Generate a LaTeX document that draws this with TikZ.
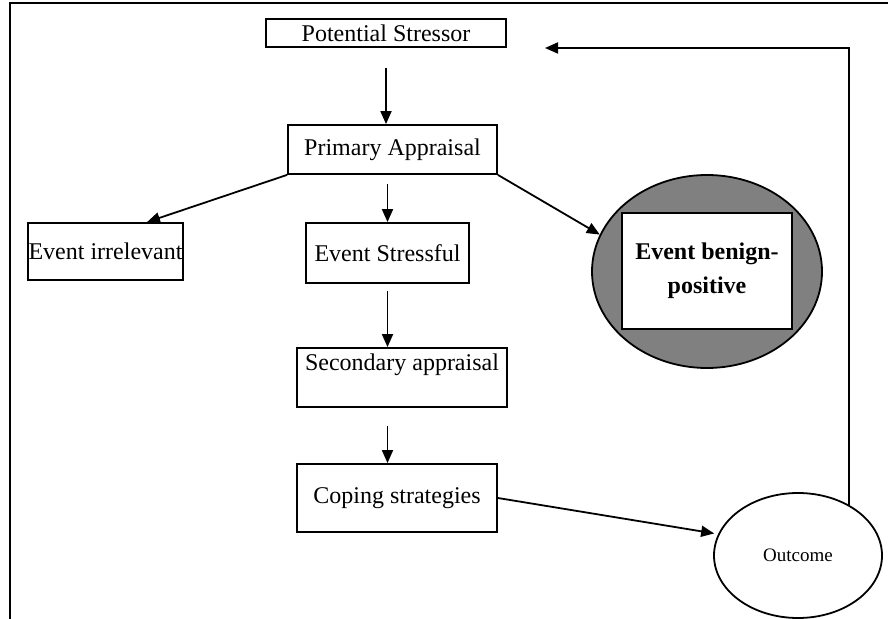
\documentclass[tikz,border=0pt]{standalone}
\usepackage{fontspec}
\setmainfont{Liberation Serif}
\usetikzlibrary{shapes.geometric,arrows.meta}
\begin{document}
\begin{tikzpicture}
  [x=0.5pt,y=-0.5pt,
   line width=0.9pt,
   >={Triangle[length=6.5pt,width=5.5pt]},
   boxN/.style={draw,rectangle,inner sep=0pt,font=\fontsize{12}{14.4}\selectfont},
   ovalN/.style={draw,ellipse,inner sep=0pt},
   arr/.style={->,line width=0.9pt},
  ]
 \useasboundingbox (0,0) rectangle (888,619);
 % frame
 \draw[line width=1.1pt] (888,3) -- (10,3) -- (10,619);

 \node[boxN,minimum width=120pt,minimum height=14pt] (stressor) at (386,33) {Potential Stressor};
 \node[boxN,minimum width=104.5pt,minimum height=24.5pt] (primary) at (392.5,149.5) {Primary Appraisal};
 \node[boxN,minimum width=77.5pt,minimum height=28.5pt] (irrelevant) at (105.5,251.5) {Event irrelevant};
 \node[boxN,minimum width=81.5pt,minimum height=30pt] (stressful) at (387.5,253) {Event Stressful};
 \node[boxN,minimum width=105pt,minimum height=29.5pt,text height=8.5pt,text depth=15pt] (secondary) at (402,377.5) {Secondary appraisal};
 \node[boxN,minimum width=100pt,minimum height=34pt] (coping) at (397,498) {Coping strategies};

 \node[ovalN,fill=black!50,minimum width=115pt,minimum height=96.5pt] (benignOuter) at (707,271.5) {};
 \node[boxN,fill=white,minimum width=85pt,minimum height=58pt,align=center,
       font=\fontsize{12}{17}\selectfont\bfseries] (benign) at (707,271) {Event benign-\\positive};
 \node[ovalN,minimum width=84pt,minimum height=62.5pt,font=\fontsize{9.5}{11}\selectfont] (outcome) at (798,555.5) {Outcome};

 % arrows
 \draw[arr,shorten <=10pt] (stressor.south) -- (stressor.south |- primary.north);
 \draw[arr,shorten <=4.5pt] (stressful.north |- primary.south) -- (stressful.north);
 \draw[arr] (primary.south west) -- ([xshift=20.75pt]irrelevant.north);
 \draw[arr] (primary.south east) -- (benignOuter.161);
 \draw[arr,shorten <=3.5pt] (stressful.south) -- (stressful.south |- secondary.north);
 \draw[arr,shorten <=9pt] (stressful.south |- secondary.south) -- (stressful.south |- coping.north);
 \draw[arr,shorten >=2pt] (coping.east) -- (outcome.165);

 % feedback
 \coordinate (fbEnd) at (545,48);
 \draw[arr] (outcome.45) |- (fbEnd);
\end{tikzpicture}
\end{document}
